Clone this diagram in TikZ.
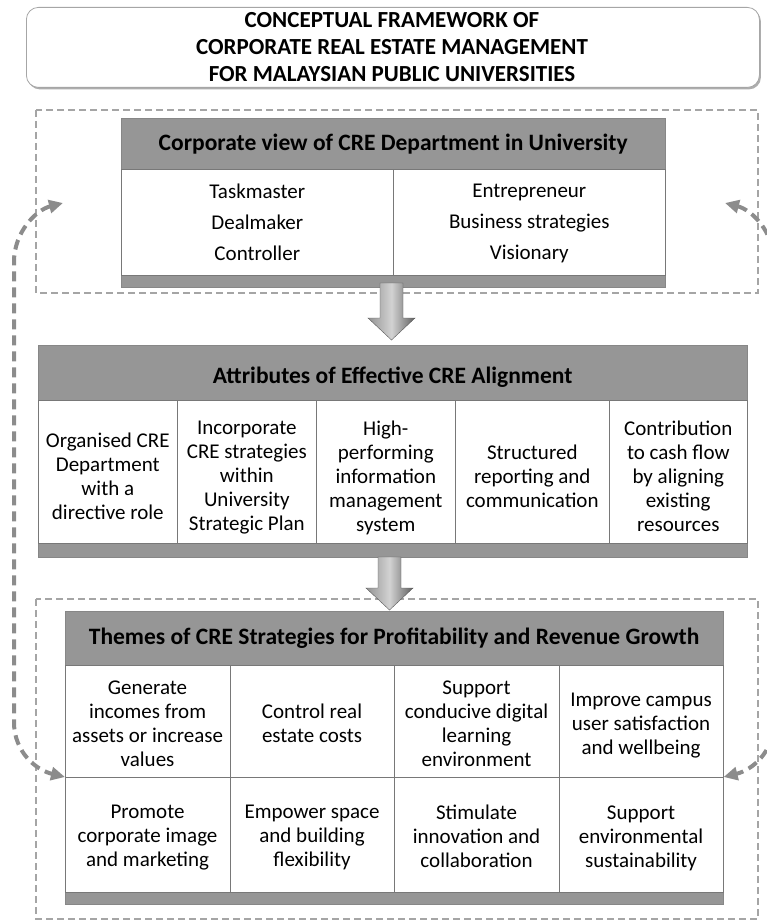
\documentclass[tikz,border=0pt]{standalone}
\usepackage{fontspec}
\setmainfont{Carlito}
\usetikzlibrary{shadows,arrows.meta}
\definecolor{hdrgray}{RGB}{150,150,150}
\definecolor{cellline}{RGB}{120,120,120}
\definecolor{dashgray}{RGB}{165,165,165}
\definecolor{loopgray}{RGB}{140,140,140}
\begin{document}
\begin{tikzpicture}[x=1pt,y=-1pt,
  titlebox/.style={draw=gray!70, line width=0.8pt, fill=white, rounded corners=12pt,
    drop shadow={shadow xshift=1.5pt, shadow yshift=-2pt, fill=gray!80, opacity=0.8},
    anchor=north west, inner sep=0pt},
  hdrbox/.style={fill=hdrgray, draw=hdrgray!90!black, line width=0.4pt, anchor=north west, inner sep=0pt,
    font=\bfseries\fontsize{23.5}{26}\selectfont, text=black},
  cellbox/.style={fill=white, draw=cellline, line width=0.6pt, anchor=north west, inner sep=0pt},
  celltext/.style={font=\fontsize{21}{24}\selectfont, align=center, inner sep=0pt,
    execute at begin node=\strut, execute at end node=\strut},
  footbox/.style={fill=hdrgray, draw=hdrgray!90!black, line width=0.4pt, anchor=north west, inner sep=0pt},
  dashframe/.style={draw=dashgray, line width=1.7pt, dash pattern=on 7pt off 4pt},
  loopline/.style={draw=loopgray, line width=4pt, dash pattern=on 10pt off 6pt,
    {Triangle[length=14pt,width=13pt]}-{Triangle[length=14pt,width=13pt]}},
  downarrow/.style={left color=gray!85, right color=gray!75!black, middle color=gray!35, draw=gray!70!black, line width=0.4pt}
]
\useasboundingbox (0,0) rectangle (767,920);
\clip (0,0) rectangle (767,920);

% title
\node[titlebox, minimum width=733pt, minimum height=80pt] (title) at (26,7) {};
\node[font=\bfseries\fontsize{23}{27}\selectfont, align=center] (titletext) at (392,47)
  {CONCEPTUAL FRAMEWORK OF\\CORPORATE REAL ESTATE MANAGEMENT\\FOR MALAYSIAN PUBLIC UNIVERSITIES};

% dashed frames
\draw[dashframe] (36,110) rectangle (758,293);
\draw[dashframe] (36,599) rectangle (758,919);

% corporate view box
\node[footbox, minimum width=544pt, minimum height=12pt] (cvfoot) at (121,275) {};
\node[hdrbox, minimum width=544pt, minimum height=51pt] (cvhdr) at (121,118) {Corporate view of CRE Department in University};
\node[cellbox, minimum width=272pt, minimum height=106pt] (cvleft) at (121,169) {};
\node[cellbox, minimum width=272pt, minimum height=106pt] (cvright) at (393,169) {};
\node[celltext, yshift=-3.5pt] (cvleftt) at (cvleft.center) {Taskmaster\\[7pt]Dealmaker\\[7pt]Controller};
\node[celltext, yshift=-3.5pt] (cvrightt) at (cvright.center) {Entrepreneur\\[7pt]Business strategies\\[7pt]Visionary};

% attributes box
\node[footbox, minimum width=709pt, minimum height=14pt] (atfoot) at (38,543) {};
\node[hdrbox, minimum width=709pt, minimum height=55pt, text height=23pt, text depth=2pt] (athdr) at (38,345) {Attributes of Effective CRE Alignment};
\node[cellbox, minimum width=139pt, minimum height=143pt] (at1) at (38,400) {};
\node[cellbox, minimum width=139pt, minimum height=143pt] (at2) at (177,400) {};
\node[cellbox, minimum width=139pt, minimum height=143pt] (at3) at (316,400) {};
\node[cellbox, minimum width=154pt, minimum height=143pt] (at4) at (455,400) {};
\node[cellbox, minimum width=138pt, minimum height=143pt] (at5) at (609,400) {};
\node[celltext, yshift=-8pt] (at1t) at (at1.center) {Organised CRE\\Department\\with a\\directive role};
\node[celltext, yshift=-8pt] (at2t) at (at2.center) {Incorporate\\CRE strategies\\within\\University\\Strategic Plan};
\node[celltext, yshift=-8pt] (at3t) at (at3.center) {High-\\performing\\information\\management\\system};
\node[celltext, yshift=-8pt] (at4t) at (at4.center) {Structured\\reporting and\\communication};
\node[celltext, yshift=-8pt] (at5t) at (at5.center) {Contribution\\to cash flow\\by aligning\\existing\\resources};

% themes box
\node[footbox, minimum width=658pt, minimum height=12pt] (thfoot) at (65,892) {};
\node[hdrbox, minimum width=658pt, minimum height=54pt] (thhdr) at (65,611) {Themes of CRE Strategies for Profitability and Revenue Growth};
\node[cellbox, minimum width=164.5pt, minimum height=112pt] (th1) at (65,665) {};
\node[cellbox, minimum width=164.5pt, minimum height=112pt] (th2) at (229.5,665) {};
\node[cellbox, minimum width=164.5pt, minimum height=112pt] (th3) at (394,665) {};
\node[cellbox, minimum width=164.5pt, minimum height=112pt] (th4) at (558.5,665) {};
\node[cellbox, minimum width=164.5pt, minimum height=115pt] (th5) at (65,777) {};
\node[cellbox, minimum width=164.5pt, minimum height=115pt] (th6) at (229.5,777) {};
\node[cellbox, minimum width=164.5pt, minimum height=115pt] (th7) at (394,777) {};
\node[cellbox, minimum width=164.5pt, minimum height=115pt] (th8) at (558.5,777) {};
\node[celltext, yshift=-6pt] (th1t) at (th1.center) {Generate\\incomes from\\assets or increase\\values};
\node[celltext, yshift=-6pt] (th2t) at (th2.center) {Control real\\estate costs};
\node[celltext, yshift=-6pt] (th3t) at (th3.center) {Support\\conducive digital\\learning\\environment};
\node[celltext, yshift=-6pt] (th4t) at (th4.center) {Improve campus\\user satisfaction\\and wellbeing};
\node[celltext, yshift=-5pt] (th5t) at (th5.center) {Promote\\corporate image\\and marketing};
\node[celltext, yshift=-5pt] (th6t) at (th6.center) {Empower space\\and building\\flexibility};
\node[celltext, yshift=-5pt] (th7t) at (th7.center) {Stimulate\\innovation and\\collaboration};
\node[celltext, yshift=-5pt] (th8t) at (th8.center) {Support\\environmental\\sustainability};

% down arrows
\shade[downarrow] (380,283) -- (403,283) -- (403,318) -- (415,318) -- (391.5,340) -- (368,318) -- (380,318) -- cycle;
\shade[downarrow] (378,557) -- (401,557) -- (401,588) -- (413,588) -- (389.5,610) -- (366,588) -- (378,588) -- cycle;

% feedback loops
\coordinate (ltop) at (63,203);
\coordinate (rtop) at (725,203);
\draw[loopline] (ltop) .. controls (36,210) and (14,232) .. (14,262) -- (14,722)
  .. controls (14,752) and (36,770) .. (th5.north west);
\draw[loopline] (rtop) .. controls (752,210) and (774,232) .. (774,262) -- (774,722)
  .. controls (774,752) and (752,770) .. (th8.north east);
\end{tikzpicture}
\end{document}
